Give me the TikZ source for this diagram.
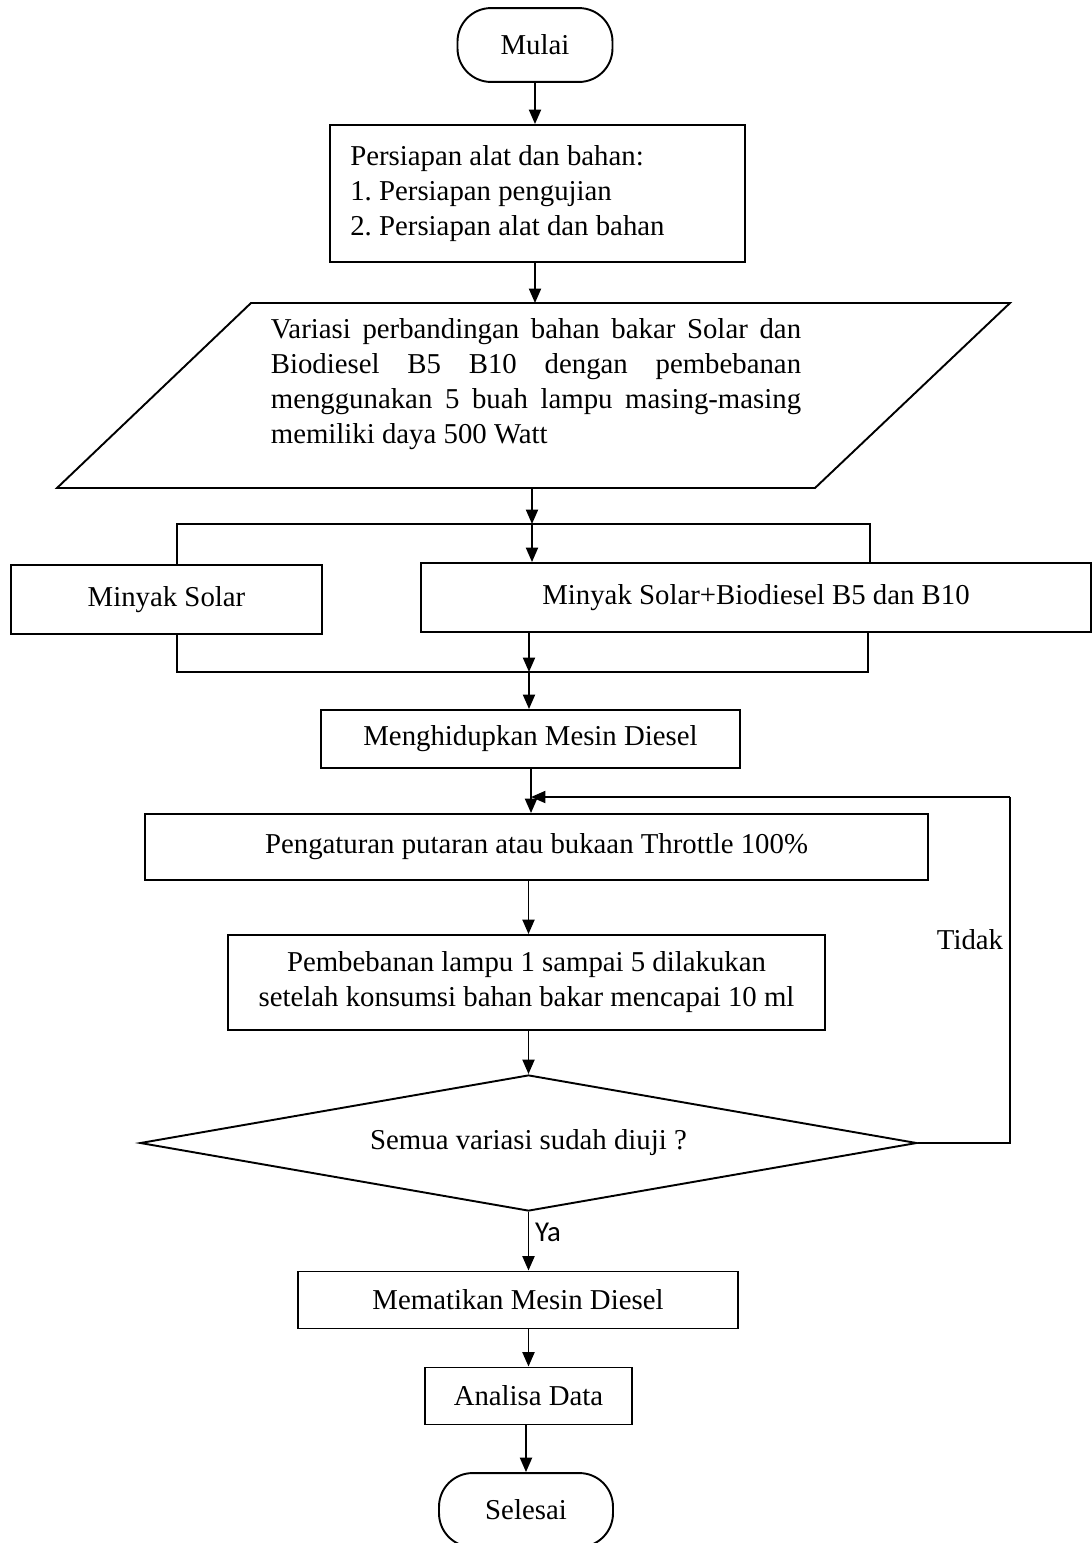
\documentclass[tikz,border=0pt]{standalone}
\usepackage{fontspec}
\setmainfont{Liberation Serif}
\newfontfamily\calibri{Carlito}
\usepackage{tikz}
\usetikzlibrary{shapes.geometric,arrows.meta}
\tikzset{>={Triangle[length=6pt,width=5pt]}}
\tikzset{
  proses/.style={draw,line width=0.8pt,inner sep=0pt,font=\fontsize{12}{14.6}\selectfont},
  terminal/.style={proses,rounded corners=14pt},
  keputusan/.style={proses,diamond,aspect=5.7},
  teks/.style={inner sep=0pt,font=\fontsize{12}{14.6}\selectfont},
  garis/.style={line width=0.5pt},
  panah/.style={->,line width=0.8pt}
}

\begin{document}
\begin{tikzpicture}[x=0.01465cm,y=-0.01465cm]
      \useasboundingbox (0,0) rectangle (1092,1543);
      \node[terminal,minimum width=64.6pt,minimum height=30.8pt] (mulai) at (535,45) {Mulai};
      \node[proses,minimum width=172.9pt,minimum height=57.1pt,text width=156pt,align=flush left] (prep) at (537.5,193.5) {\frenchspacing Persiapan alat dan bahan:\\1. Persiapan pengujian\\2. Persiapan alat dan bahan};
      \draw[line width=0.8pt] (251,303) -- (1010,303) -- (815,488) -- (57,488) -- cycle;
      \coordinate (varatas) at (535,303);
      \coordinate (varbawah) at (532,488);
      \node[teks,text width=221pt,align=justify] (var) at (536,384) {Variasi perbandingan bahan bakar Solar dan\linebreak Biodiesel B5 B10 dengan pembebanan\linebreak menggunakan 5 buah lampu masing-masing\linebreak memiliki daya 500 Watt};
      \node[proses,minimum width=129.6pt,minimum height=28.75pt] (solar) at (166.5,599.5) {Minyak Solar};
      \node[proses,minimum width=279.2pt,minimum height=28.75pt] (campur) at (756,597.5) {Minyak Solar+Biodiesel B5 dan B10};
      \node[proses,minimum width=174.6pt,minimum height=24.2pt] (hidup) at (530.5,739) {Menghidupkan Mesin Diesel};
      \node[proses,minimum width=326.25pt,minimum height=27.5pt] (atur) at (536.5,847) {Pengaturan putaran atau bukaan Throttle 100\%};
      \node[proses,minimum width=248.75pt,minimum height=39.6pt,align=center] (beban) at (526.5,982.5) {Pembebanan lampu 1 sampai 5 dilakukan\\setelah konsumsi bahan bakar mencapai 10 ml};
      \node[keputusan,minimum width=323.75pt,minimum height=56.7pt] (uji) at (528.5,1143) {Semua variasi sudah diuji ?};
      \node[proses,minimum width=183.3pt,minimum height=23.75pt] (mati) at (518,1300) {Mematikan Mesin Diesel};
      \node[proses,minimum width=86.25pt,minimum height=23.75pt] (analisa) at (528.5,1396) {Analisa Data};
      \node[terminal,minimum width=72.5pt,minimum height=30.8pt] (selesai) at (526,1510) {Selesai};
      \node[teks] (tidak) at (970,940) {Tidak};
      \node[inner sep=0pt,font=\calibri\fontsize{12}{14}\selectfont] (ya) at (548,1232) {Ya};
      \coordinate (kiriatas) at (177,524);
      \coordinate (kananatas) at (870,524);
      \coordinate (kiribawah) at (177,672);
      \coordinate (kananbawah) at (868,672);
      \coordinate (simpulatas) at (532,524);
      \coordinate (simpulbawah) at (529,672);
      \coordinate (pojok) at (1010,797);
      \coordinate (masuk) at (531,797);
      \draw[panah] (mulai) -- (mulai.south |- prep.north);
      \draw[panah] (prep.south -| varatas) -- (varatas);
      \draw[panah] (varbawah) -- (simpulatas);
      \draw[panah] (simpulatas) -- (simpulatas |- campur.north);
      \draw[garis] (kiriatas |- solar.north) -- (kiriatas) -- (kananatas) -- (kananatas |- campur.north);
      \draw[garis] (kiribawah |- solar.south) -- (kiribawah) -- (kananbawah) -- (kananbawah |- campur.south);
      \draw[panah] (simpulbawah |- campur.south) -- (simpulbawah);
      \draw[panah] (simpulbawah) -- (simpulbawah |- hidup.north);
      \draw[panah] (hidup.south -| masuk) -- (masuk |- atur.north);
      \draw[panah] (atur.south -| uji) -- (uji |- beban.north);
      \draw[panah] (beban.south -| uji) -- (uji.north);
      \draw[panah] (uji.south) -- (uji.south |- mati.north);
      \draw[panah] (mati.south -| analisa) -- (analisa);
      \draw[panah] (analisa.south -| selesai) -- (selesai);
      \draw[garis] (uji.east) -| (pojok);
      \draw[panah] (pojok) -- (masuk);
    \end{tikzpicture}
\end{document}
